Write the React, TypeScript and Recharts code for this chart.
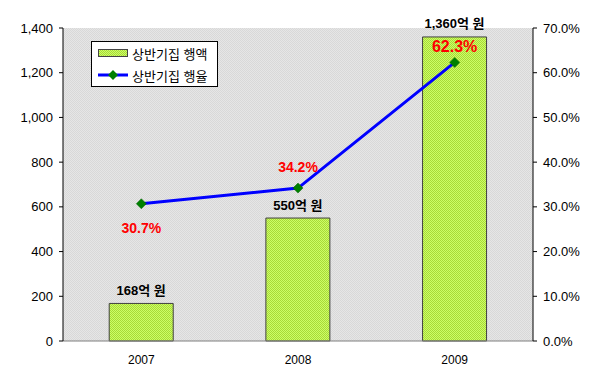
import React from 'react';
import { ComposedChart, Bar, Line, XAxis, YAxis, CartesianGrid, LabelList } from 'recharts';

const years = ['2007', '2008', '2009'];
const amounts = [168, 550, 1360];
const rates = [30.7, 34.2, 62.3];
const amountTicks = [0, 200, 400, 600, 800, 1000, 1200, 1400];
const rateTicks = [0, 10, 20, 30, 40, 50, 60, 70];

const data = years.map((y, i) => ({ year: y, amount: amounts[i], rate: rates[i] }));

const FONT = '"Liberation Sans", Arial, "Noto Sans CJK KR", sans-serif';

const Diamond = (props: any) => {
  const { cx, cy } = props;
  if (cx == null || cy == null) return null;
  const r = 5;
  return (
    <polygon
      points={`${cx},${cy - r} ${cx + r},${cy} ${cx},${cy + r} ${cx - r},${cy}`}
      fill="#008000"
      stroke="#006000"
      strokeWidth={0.5}
    />
  );
};

const RateLabel = (props: any) => {
  const { x, y, index, value } = props;
  const dy = index === 0 ? 24 : index === 1 ? -21 : -16;
  const size = index === 2 ? 16 : 14;
  return (
    <text x={x} y={y + dy} textAnchor="middle" dominantBaseline="central" fill="#ff0000" fontWeight="bold" fontSize={size} fontFamily={FONT}>
      {value.toFixed(1)}%
    </text>
  );
};

const AmountLabel = (props: any) => {
  const { x, y, width, value } = props;
  return (
    <text x={x + width / 2} y={y - 13} textAnchor="middle" dominantBaseline="central" fill="#000" fontWeight="bold" fontSize={13} fontFamily={FONT}>
      {Number(value).toLocaleString('en-US')}억 원
    </text>
  );
};

const LegendBox = () => (
  <div style={{ position: 'absolute', left: 91, top: 41, width: 125, height: 44, border: '1px solid #000', background: '#fff', fontFamily: FONT, fontSize: 13, color: '#000' }}>
    <div style={{ display: 'flex', alignItems: 'center', height: 22, paddingLeft: 6 }}>
      <svg width={30} height={10} style={{ marginRight: 4 }}>
        <rect x={0.5} y={1.5} width={29} height={7} fill="url(#barPattern)" stroke="#444" strokeWidth={1} />
      </svg>
      <span>상반기집 행액</span>
    </div>
    <div style={{ display: 'flex', alignItems: 'center', height: 22, paddingLeft: 6 }}>
      <svg width={30} height={10} style={{ marginRight: 4 }}>
        <line x1={0} y1={5} x2={30} y2={5} stroke="#0000ff" strokeWidth={3} />
        <polygon points="15,0 20,5 15,10 10,5" fill="#008000" />
      </svg>
      <span>상반기집 행율</span>
    </div>
  </div>
);

export default function App() {
  return (
    <div style={{ margin: -8, width: 600, height: 386, position: 'relative', background: '#fff' }}>
      <div style={{ position: 'absolute', left: 3, top: 3, width: 593, height: 379, border: '1px solid #000' }} />
      <ComposedChart
        width={600}
        height={386}
        data={data}
        margin={{ top: 28, right: 0, bottom: 15, left: 0 }}
        barCategoryGap="29.5%"
      >
        <defs>
          <pattern id="barPattern" width={2} height={2} patternUnits="userSpaceOnUse">
            <rect width={2} height={2} fill="#ccff66" />
            <rect width={1} height={1} fill="#a8d838" />
            <rect x={1} y={1} width={1} height={1} fill="#a8d838" />
          </pattern>
          <pattern id="bgPattern" width={2} height={2} patternUnits="userSpaceOnUse">
            <rect width={2} height={2} fill="#e6e6e6" />
            <rect width={1} height={1} fill="#d8d8d8" />
            <rect x={1} y={1} width={1} height={1} fill="#d8d8d8" />
          </pattern>
        </defs>
        <CartesianGrid horizontal={false} vertical={false} fill="url(#bgPattern)" stroke="#808080" />
        <XAxis
          dataKey="year"
          height={30}
          tickLine={false}
          axisLine={{ stroke: '#808080' }}
          tick={{ fill: '#000', fontSize: 12, fontFamily: FONT }}
          tickMargin={8}
        />
        <YAxis
          yAxisId="left"
          width={63}
          domain={[0, 1400]}
          ticks={amountTicks}
          interval={0}
          tickFormatter={(v: number) => v.toLocaleString('en-US')}
          axisLine={{ stroke: '#000' }}
          tickLine={{ stroke: '#000' }}
          tickSize={4}
          tick={{ fill: '#000', fontSize: 13, fontFamily: FONT }}
          tickMargin={6}
        />
        <YAxis
          yAxisId="right"
          orientation="right"
          width={67}
          domain={[0, 70]}
          ticks={rateTicks}
          interval={0}
          tickFormatter={(v: number) => `${v.toFixed(1)}%`}
          axisLine={{ stroke: '#000' }}
          tickLine={{ stroke: '#000' }}
          tickSize={4}
          tick={{ fill: '#000', fontSize: 13, fontFamily: FONT }}
          tickMargin={6}
        />
        <Bar yAxisId="left" dataKey="amount" name="상반기집 행액" fill="url(#barPattern)" stroke="#404040" strokeWidth={1} isAnimationActive={false}>
          <LabelList dataKey="amount" content={<AmountLabel />} />
        </Bar>
        <Line
          yAxisId="right"
          dataKey="rate"
          name="상반기집 행율"
          stroke="#0000ff"
          strokeWidth={3}
          dot={<Diamond />}
          activeDot={false}
          isAnimationActive={false}
        >
          <LabelList dataKey="rate" content={<RateLabel />} />
        </Line>
      </ComposedChart>
      <LegendBox />
    </div>
  );
}
